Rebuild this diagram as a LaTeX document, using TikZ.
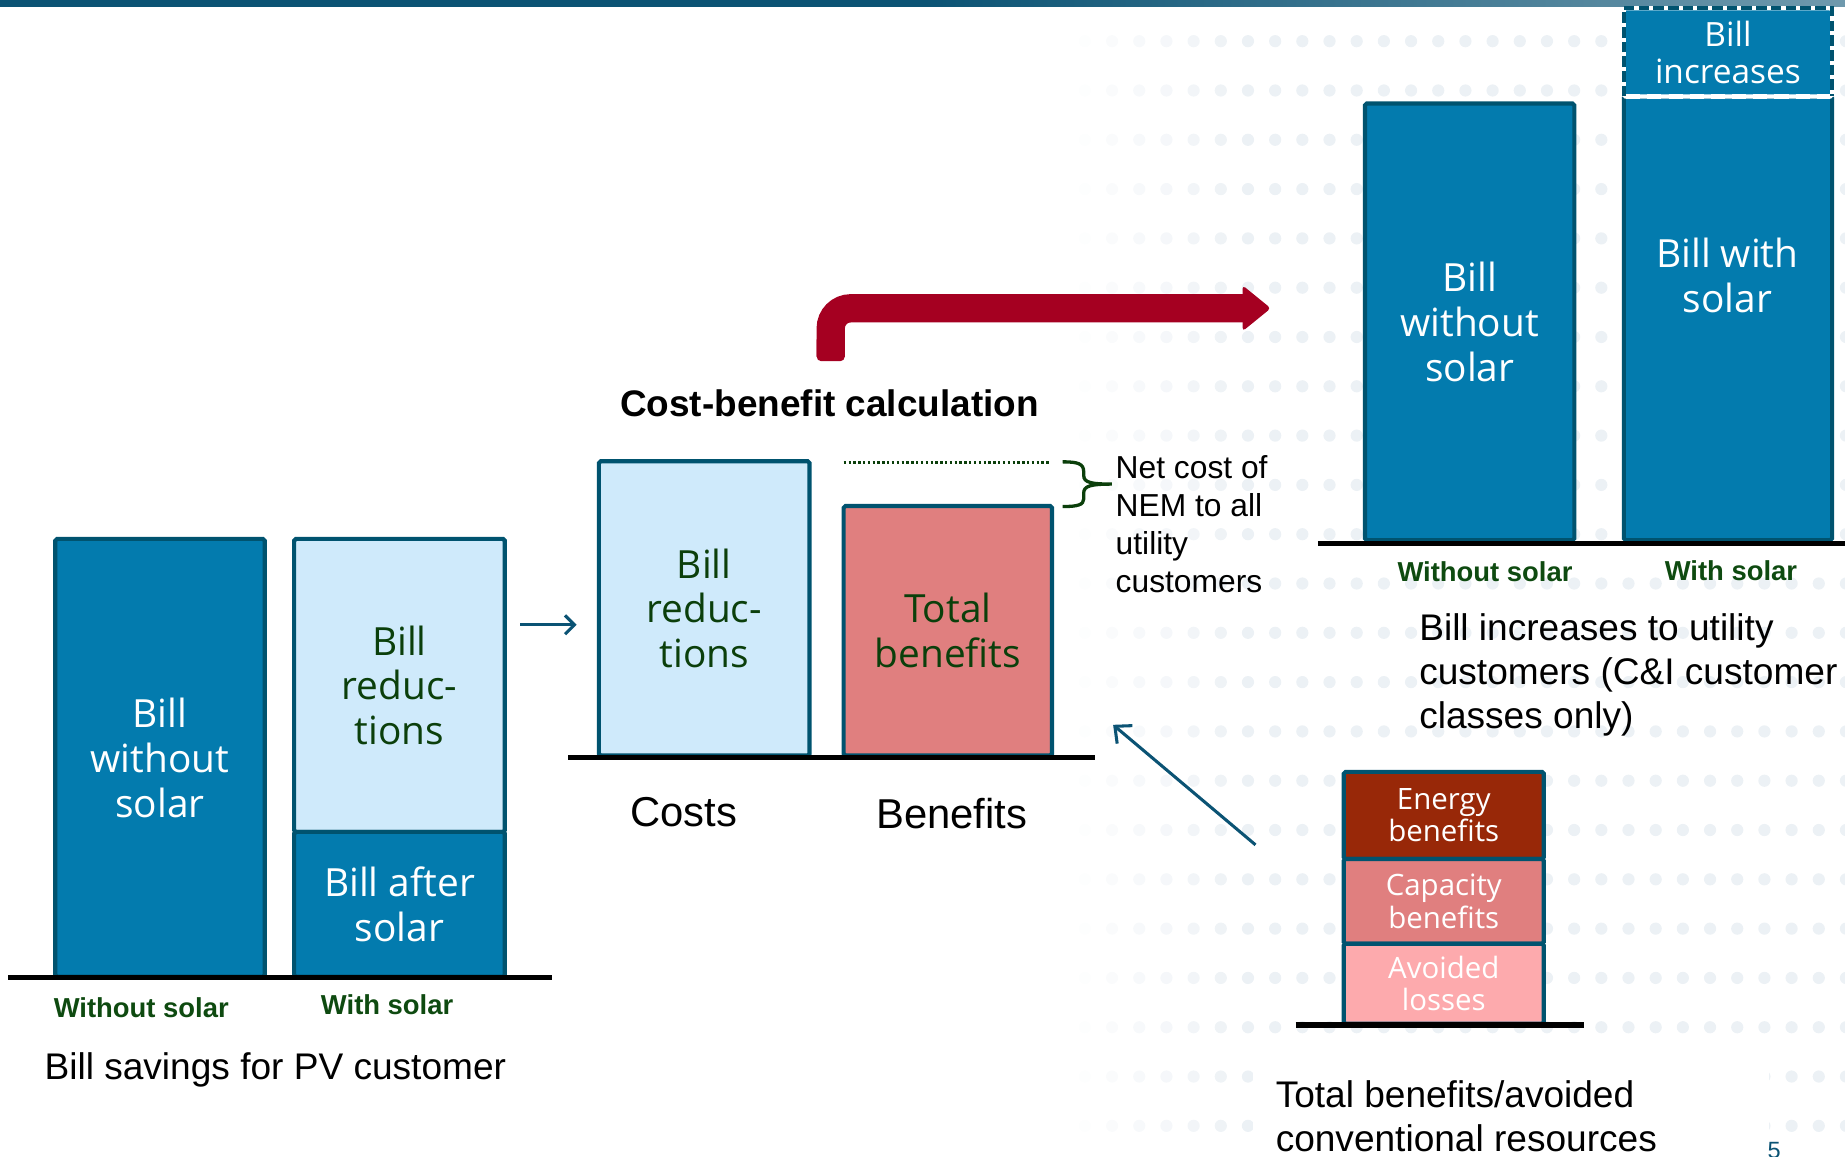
\documentclass[tikz,border=0pt]{standalone}
\usepackage{fontspec}
\setmainfont{Liberation Sans}
\newfontfamily\boxfont{Open Sans}
\usetikzlibrary{calc,arrows.meta}

\definecolor{topbar}{HTML}{0B5374}
\definecolor{bandlight}{HTML}{D3E0E6}
\definecolor{barblue}{HTML}{037BAE}
\definecolor{barline}{HTML}{00536F}
\definecolor{lightblue}{HTML}{CFEAFB}
\definecolor{deepgreen}{HTML}{0B3F0B}
\definecolor{labelgreen}{HTML}{0E4A10}
\definecolor{rose}{HTML}{E07F7F}
\definecolor{brick}{HTML}{982808}
\definecolor{blush}{HTML}{FDAAAD}
\definecolor{crimson}{HTML}{A50021}
\definecolor{dotgrey}{HTML}{ECF1F5}
\definecolor{arrowteal}{HTML}{0B5374}

% header band: solid on the left, fading out to the right
\pgfdeclarehorizontalshading{bandfade}{100bp}{color(0bp)=(topbar); color(50bp)=(topbar); color(100bp)=(bandlight)}

\tikzset{
  bar/.style={rectangle, draw=barline, line width=3.5pt, rounded corners=1.5pt,
    inner sep=0pt, outer sep=0pt, anchor=north west, align=center,
    font=\boxfont\fontsize{33}{38}\selectfont},
  bluebar/.style={bar, fill=barblue, text=white},
  lightbar/.style={bar, fill=lightblue, text=deepgreen},
  rosebar/.style={bar, fill=rose, text=deepgreen},
  stackbox/.style={bar, text=white, font=\boxfont\fontsize{25}{27.5}\selectfont},
  ground/.style={draw=black, line width=4.5pt},
  barlabel/.style={anchor=base, inner sep=0pt, text=labelgreen,
    font=\bfseries\fontsize{23.3}{28}\selectfont},
  caption/.style={anchor=north west, align=left, inner sep=0pt,
    font=\fontsize{31.5}{37.5}\selectfont},
  axislabel/.style={anchor=base, inner sep=0pt, font=\fontsize{35.5}{42}\selectfont},
  flowarrow/.style={draw=arrowteal, line width=2.6pt,
    -{Straight Barb[length=8pt,width=16pt]}},
}

\begin{document}
\begin{tikzpicture}[x=1pt,y=-1pt]
\useasboundingbox (0,0) rectangle (1568,983);

% faint dot grid in the background, fading in from the left
\foreach \j in {0,...,28}{
  \pgfmathsetmacro\op{min(1,0.1+0.15*\j)}
  \foreach \k in {0,...,22}{
    \fill[dotgrey, opacity=\op] (922+23.1*\j,35+41.9*\k) circle[radius=5.2pt];
  }
}
% white text panel at the lower right
\fill[white] (1065,893) rectangle (1503,983);

% header band
\shade[shading=bandfade] (0,0) rectangle (1568,5.5);

% ---------- bill savings for the PV customer ----------
\node[bluebar, minimum width=178, minimum height=372] (lwo) at (47,458) {Bill\\without\\solar};
\node[lightbar, minimum width=179, minimum height=249] (lred) at (250,458) {Bill\\reduc-\\tions};
\node[bluebar, minimum width=179, minimum height=123] (lafter) at (250,707) {Bill after\\solar};
\draw[ground] (7,831) -- (469,831);
\node[barlabel] (lwoLab) at (120,864.3) {Without solar};
\node[barlabel] (lwLab) at (329,862.3) {With solar};
\node[anchor=base, inner sep=0pt, font=\fontsize{31.5}{37.5}\selectfont] (lcap) at (234,917.3) {Bill savings for PV customer};

% ---------- cost-benefit calculation ----------
\node[anchor=base, inner sep=0pt, font=\bfseries\fontsize{31.4}{37}\selectfont] (cbt) at (705,354.2) {Cost-benefit calculation};
\node[lightbar, minimum width=179, minimum height=250] (cred) at (509,392) {Bill\\reduc-\\tions};
\node[rosebar, minimum width=177, minimum height=212] (ctot) at (717,430) {Total\\benefits};
\draw[ground, line width=4pt] (483,644) -- (931,644);
\node[axislabel] (costs) at (581,702.7) {Costs};
\node[axislabel] (benefits) at (809,703.7) {Benefits};
\draw[deepgreen, line width=2.5pt, dash pattern=on 2pt off 2.1pt]
  ($(ctot.north west)+(0,-37)$) -- ($(ctot.north east)+(-1,-37)$);
\draw[deepgreen, line width=2.8pt]
  (903,392.5) .. controls (916,392.5) and (921,394) .. (921,401) -- (921,404)
  .. controls (921,410) and (927,411.4) .. (945,411.4)
  .. controls (927,411.4) and (921,413) .. (921,419) -- (921,424)
  .. controls (921,429) and (916,430.5) .. (903,430.5);
\node[caption, font=\fontsize{27}{32.3}\selectfont] (nem) at (948,387) {Net cost of\\NEM to all\\utility\\customers};

\draw[flowarrow] ($(lred.east)+(13,-51.5)$) -- ($(cred.west)+(-19,14)$);

% ---------- bill increases to utility customers ----------
\node[bluebar, minimum width=178, minimum height=371] (rwo) at (1160,88) {Bill\\without\\solar};
\node[bluebar, minimum width=177, minimum height=377] (rws) at (1380,82) {};
\node[align=center, text=white, font=\boxfont\fontsize{33}{38}\selectfont] (rwsT) at (1468,234) {Bill with\\solar};
\node[bar, fill=barblue, draw=white, text=white, minimum width=177, minimum height=75,
  font=\boxfont\fontsize{28.4}{32}\selectfont] (rinc) at (1380,7) {Bill\\increases};
\draw[barline, line width=3.5pt, dash pattern=on 9pt off 3.5pt]
  (rinc.south west) -- (rinc.north west) -- (rinc.north east) -- (rinc.south east);
\draw[white, line width=3.5pt, dash pattern=on 12pt off 6pt]
  ($(rws.north west)+(2,0)$) -- ($(rws.north east)+(-2,0)$);
\draw[ground] (1120,462) -- (1568,462);
\node[barlabel] (rwoLab) at (1262,494.3) {Without solar};
\node[barlabel] (rwLab) at (1471,493.3) {With solar};
\node[caption] (rcap) at (1206,521) {Bill increases to utility\\customers (C\&I customer\\classes only)};

% ---------- avoided conventional resources ----------
\node[stackbox, fill=brick, minimum width=170, minimum height=74] (energy) at (1142,656) {Energy\\benefits};
\node[stackbox, fill=rose, minimum width=170, minimum height=72] (capacity) at (1142,730) {Capacity\\benefits};
\node[stackbox, fill=blush, minimum width=170, minimum height=68] (avoided) at (1142,802) {Avoided\\losses};
\draw[ground, line width=5pt] (1101,871) -- (1346,871);
\node[caption] (bcap) at (1084,918) {Total benefits/avoided\\conventional resources};

\draw[flowarrow, -{Straight Barb[length=11pt,width=20pt]}]
  ($(energy.west)+(-75,25)$) -- ($(ctot.south east)+(52,-26)$);

% ---------- transfer arrow ----------
\coordinate (rstart) at (706,303);
\coordinate (rbend) at (706,262);
\coordinate (rtip) at (1080,262);
\draw[crimson, line width=24pt, rounded corners=17pt] (rstart) -- (rbend) -- ($(rtip)+(-20,0)$);
\fill[crimson, rounded corners=4pt] (694,285) rectangle (718,307);
\fill[crimson, rounded corners=3pt] ($(rtip)+(-24,-19.5)$) -- (rtip) -- ($(rtip)+(-24,19.5)$) -- cycle;

% slide number
\node[anchor=north west, inner sep=0pt, text=arrowteal, font=\fontsize{20}{20}\selectfont] (pg) at (1502,971) {5};
\end{tikzpicture}
\end{document}
